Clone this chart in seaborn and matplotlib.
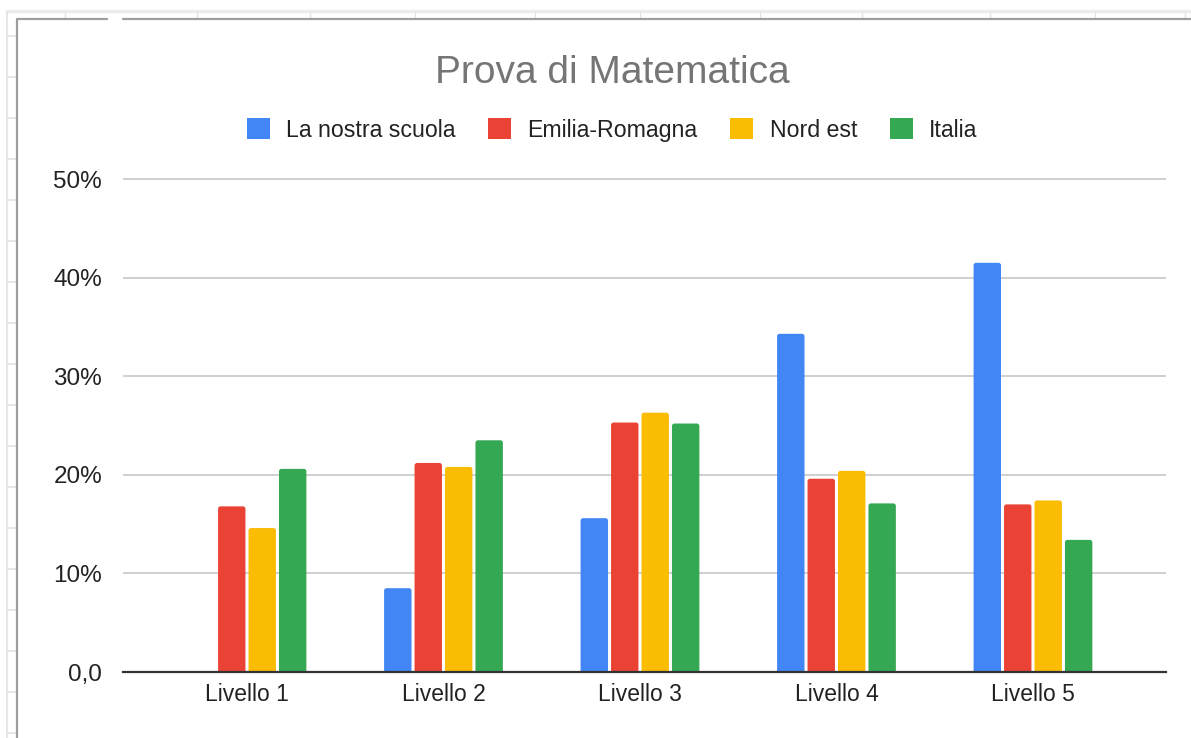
import matplotlib

matplotlib.use("Agg")

import matplotlib.pyplot as plt
import pandas as pd
import seaborn as sns
from matplotlib.lines import Line2D
from matplotlib.patches import FancyBboxPatch, Patch

LEVELS = ["Livello 1", "Livello 2", "Livello 3", "Livello 4", "Livello 5"]
SERIES = ["La nostra scuola", "Emilia-Romagna", "Nord est", "Italia"]
SCUOLA = [0.0, 8.5, 15.6, 34.3, 41.5]
EMILIA = [16.8, 21.2, 25.3, 19.6, 17.0]
NORD_EST = [14.6, 20.8, 26.3, 20.4, 17.4]
ITALIA = [20.6, 23.5, 25.2, 17.1, 13.4]
Y_TICKS = [0, 10, 20, 30, 40, 50]
Y_LABELS = ["0,0", "10%", "20%", "30%", "40%", "50%"]
COLORS = ["#4285F4", "#EA4335", "#FBBC04", "#34A853"]

W, H = 1191, 738
XLIM = (-0.631, 4.677)
YLIM = (0, 50.5)


def fx(x):
    return x / W


def fy(y):
    return 1 - y / H


def sheet_frame(fig):
    # light spreadsheet cells around the chart
    light = "#e3e3e3"
    fig.add_artist(Line2D([fx(7), 1], [fy(11), fy(11)], color="#ececec", lw=2.5))
    fig.add_artist(Line2D([fx(7), fx(7)], [fy(12), 0], color=light, lw=1.2))
    for y in range(36, H, 41):
        fig.add_artist(Line2D([fx(7), fx(17)], [fy(y), fy(y)], color=light, lw=1.2))
    for x in (65, 197, 310, 415, 535, 640, 760, 862, 990, 1095, 1185):
        fig.add_artist(Line2D([fx(x), fx(x)], [fy(12), fy(18)], color=light, lw=1.0))
    # chart border
    border = "#9e9e9e"
    fig.add_artist(Line2D([fx(17), fx(107)], [fy(19), fy(19)], color=border, lw=1.6))
    fig.add_artist(Line2D([fx(123), 1], [fy(19), fy(19)], color=border, lw=1.6))
    fig.add_artist(Line2D([fx(17), fx(17)], [fy(19), 0], color=border, lw=1.6))


def round_bars(ax, ax_w_px, ax_h_px, radius_px=2.5):
    # swap the square bars for slightly rounded ones, like Google Charts
    x_per_px = (XLIM[1] - XLIM[0]) / ax_w_px
    y_per_px = (YLIM[1] - YLIM[0]) / ax_h_px
    below = 4 * y_per_px
    for bar in list(ax.patches):
        h = bar.get_height()
        if h <= 0:
            bar.remove()
            continue
        x, w = bar.get_x(), bar.get_width()
        color = bar.get_facecolor()
        bar.remove()
        ax.add_patch(FancyBboxPatch(
            (x, -below), w, h + below,
            boxstyle=f"round,pad=0,rounding_size={radius_px * x_per_px}",
            mutation_aspect=y_per_px / x_per_px,
            facecolor=color, edgecolor="none", zorder=2,
        ))


def main() -> None:
    df = pd.DataFrame({
        "livello": LEVELS * 4,
        "serie": [s for s in SERIES for _ in LEVELS],
        "valore": SCUOLA + EMILIA + NORD_EST + ITALIA,
    })

    sns.set_theme(style="white")
    plt.rcParams["font.family"] = ["Liberation Sans", "DejaVu Sans"]

    fig = plt.figure(figsize=(W / 100, H / 100), dpi=100, facecolor="white")
    top_px = 179 - 0.5 * (672 - 179) / 50
    ax = fig.add_axes([fx(123), fy(672), fx(1166) - fx(123), fy(top_px) - fy(672)])

    sns.barplot(
        data=df,
        x="livello",
        y="valore",
        hue="serie",
        palette=COLORS,
        saturation=1,
        width=0.62,
        gap=0.1,
        linewidth=0,
        legend=False,
        ax=ax,
    )

    ax.set_xlim(*XLIM)
    ax.set_ylim(*YLIM)
    round_bars(ax, 1166 - 123, 672 - top_px)
    ax.set_yticks(Y_TICKS)
    ax.set_yticklabels(Y_LABELS)
    ax.yaxis.grid(True, color="#cccccc", lw=1.3)
    ax.set_axisbelow(True)
    ax.set_xlabel("")
    ax.set_ylabel("")
    for side in ("top", "left", "right"):
        ax.spines[side].set_visible(False)
    ax.spines["bottom"].set_color("#333333")
    ax.spines["bottom"].set_linewidth(1.6)
    ax.spines["bottom"].set_zorder(3)
    ax.tick_params(axis="y", length=0, pad=15, labelsize=17.5, labelcolor="#222222")
    ax.tick_params(axis="x", length=0, pad=8, labelsize=16.5, labelcolor="#222222")

    fig.text(fx(612), fy(73), "Prova di Matematica", ha="center", va="center",
             fontsize=28, color="#757575")

    handles = [Patch(facecolor=c, edgecolor="none", label=s) for s, c in zip(SERIES, COLORS)]
    fig.legend(
        handles=handles,
        loc="center",
        bbox_to_anchor=(fx(612), fy(130)),
        ncol=4,
        frameon=False,
        fontsize=16.7,
        handlelength=1.0,
        handleheight=1.0,
        handletextpad=0.7,
        columnspacing=1.4,
        labelcolor="#222222",
    )

    sheet_frame(fig)
    fig.savefig("out.png", dpi=100, facecolor="white")
    plt.close(fig)


if __name__ == "__main__":
    main()
